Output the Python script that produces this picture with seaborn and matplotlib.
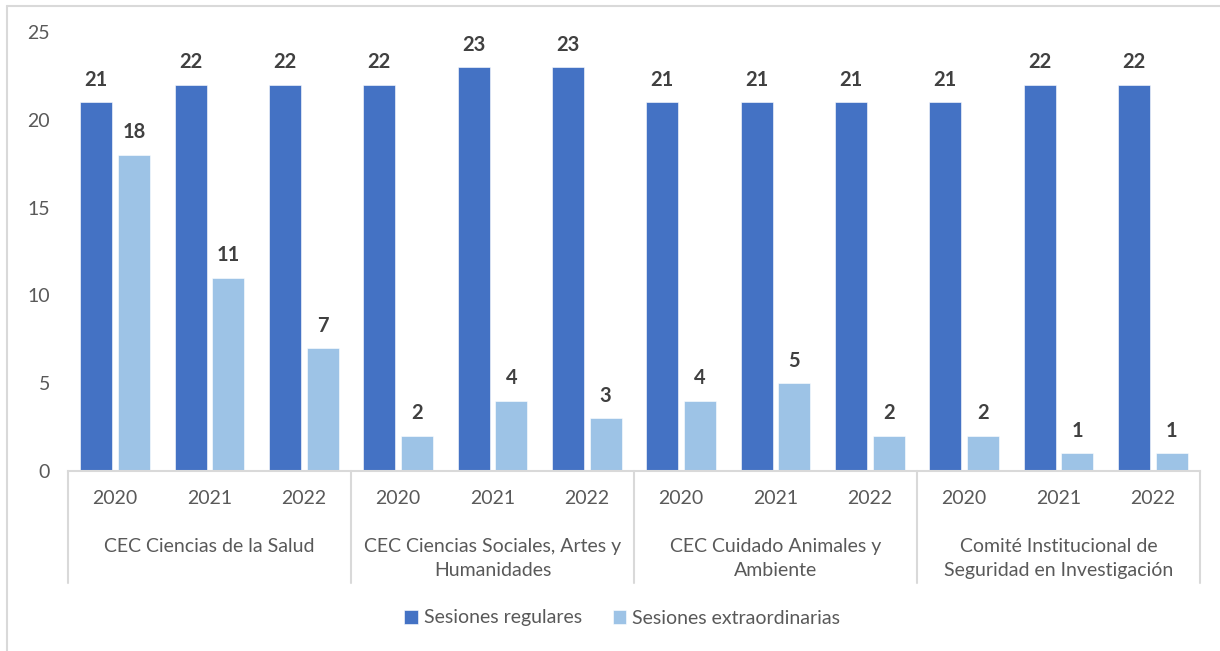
import pandas as pd
import matplotlib.pyplot as plt
import matplotlib.transforms as mtransforms
import seaborn as sns

groups = ["CEC Ciencias de la Salud",
          "CEC Ciencias Sociales, Artes y\nHumanidades",
          "CEC Cuidado Animales y\nAmbiente",
          "Comité Institucional de\nSeguridad en Investigación"]
years = ["2020", "2021", "2022"]
regulares = [21, 22, 22, 22, 23, 23, 21, 21, 21, 21, 22, 22]
extraordinarias = [18, 11, 7, 2, 4, 3, 4, 5, 2, 2, 1, 1]
series = ["Sesiones regulares", "Sesiones extraordinarias"]

keys = [f"{g}|{y}" for g in groups for y in years]
df = pd.DataFrame({
    "cat": keys * 2,
    "serie": [series[0]] * 12 + [series[1]] * 12,
    "valor": regulares + extraordinarias,
})

sns.set_style("white")
plt.rcParams['font.family'] = ['Lato', 'DejaVu Sans']

fig = plt.figure(figsize=(12.2, 6.51), dpi=100)
ax = fig.add_axes([68 / 1220, 1 - 471 / 651, (1200 - 68) / 1220, (471 - 32) / 651])

sns.barplot(data=df, x="cat", y="valor", hue="serie", order=keys, hue_order=series,
            palette=["#4472C4", "#9DC3E6"], saturation=1, width=0.8, gap=0.15,
            edgecolor="white", linewidth=0.4, ax=ax, legend=True)

for cont in ax.containers:
    ax.bar_label(cont, fontsize=14.5, fontweight="bold", color="#404040", padding=9)

ax.set_ylim(0, 25)
ax.set_xlim(-0.5, len(keys) - 0.5)
ax.set_yticks(range(0, 26, 5))
ax.set_xticks(range(len(keys)))
ax.set_xticklabels([])
ax.tick_params(axis="y", length=0, labelsize=14, labelcolor="#595959", pad=13)
ax.tick_params(axis="x", length=0)
ax.set_xlabel("")
ax.set_ylabel("")
for s in ["top", "right", "left"]:
    ax.spines[s].set_visible(False)
ax.spines["bottom"].set_color("#D9D9D9")
ax.spines["bottom"].set_linewidth(1.5)

trans = mtransforms.blended_transform_factory(ax.transData, ax.transAxes)
for i, k in enumerate(keys):
    ax.text(i, -0.062, k.split("|")[1], transform=trans, ha="center", va="center",
            fontsize=14, color="#595959")
for j, g in enumerate(groups):
    ax.text(3 * j + 1, -0.152, g, transform=trans, ha="center", va="top",
            fontsize=14, color="#595959", linespacing=1.5)
for b in range(len(groups) + 1):
    ax.plot([3 * b - 0.5] * 2, [0, -0.255], transform=trans, color="#D9D9D9",
            lw=1.5, clip_on=False)

handles, labels = ax.get_legend_handles_labels()
ax.get_legend().remove()
fig.legend(handles, labels, loc="center", bbox_to_anchor=(0.51, 1 - 618 / 651), ncol=2,
           frameon=False, fontsize=14, handlelength=0.7, handleheight=0.7,
           handletextpad=0.3, columnspacing=1.6, labelcolor="#595959")

# chart border (top and left edges visible in the screenshot)
fig.add_artist(plt.Line2D([7 / 1220, 1], [1 - 6 / 651] * 2, transform=fig.transFigure,
                          color="#D9D9D9", lw=1.5))
fig.add_artist(plt.Line2D([7 / 1220] * 2, [0, 1 - 6 / 651], transform=fig.transFigure,
                          color="#D9D9D9", lw=1.5))

fig.savefig("out.png", dpi=100)
